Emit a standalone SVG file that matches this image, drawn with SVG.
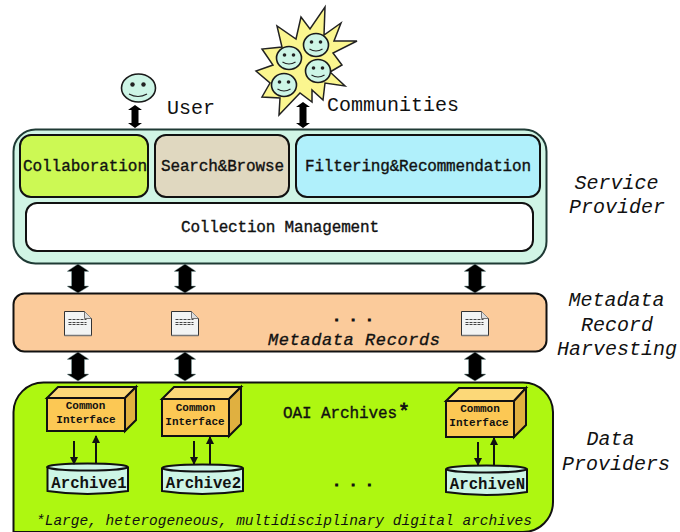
<svg xmlns="http://www.w3.org/2000/svg" width="680" height="532" viewBox="0 0 680 532">
<style>
text{font-family:"Liberation Mono","Courier New",monospace;fill:#111}
.lbl{font-size:20px;text-anchor:middle}
.it{font-style:italic}
.box{stroke:#111;stroke-width:2}
.ci{font-size:11px;font-weight:bold;text-anchor:middle}
.ar{font-size:15.7px;font-weight:bold;text-anchor:middle}
.thin{stroke:#111;stroke-width:2;fill:none}
.face{fill:#cdf5e6;stroke:#1a1a1a;stroke-width:1.6}
.eye{fill:#222}
.smile{fill:none;stroke:#222;stroke-width:1.2}
.tm{font-size:16px;stroke:#111;stroke-width:.35}
.dots{font-size:13.700px;font-weight:bold;text-anchor:middle;stroke:#111;stroke-width:1}
</style>
<defs>
<path id="big" d="M0 0L10.500 7V7.500H6.500V22H10.500V22.500L0 29L-10.500 22.500V22H-6.500V7.500H-10.500V7Z" fill="#000" stroke="#8aa" stroke-width=".5"/>
<marker id="tip" viewBox="0 0 8 8" refX="7" refY="4" markerWidth="8" markerHeight="8" markerUnits="userSpaceOnUse" orient="auto"><path d="M0 0L8 4L0 8Z" fill="#111"/></marker>
<g id="doc"><path d="M0 0H20L27 7V24H0Z" fill="#f2f4f4" stroke="#333" stroke-width="1"/><path d="M20 0V7H27" fill="#ddd" stroke="#555" stroke-width=".8"/><path d="M4 8H22M4 11H22M4 13H22" stroke="#444" stroke-width="1.100" stroke-dasharray="3 1"/><path d="M0 24H27" stroke="#777" stroke-width="1.500"/></g>
<g id="f"><ellipse class="face" rx="12.500" ry="11.500"/><circle class="eye" cx="-4.500" cy="-3" r="1.800"/><circle class="eye" cx="4.500" cy="-3" r="1.800"/><path class="smile" d="M-6.500 4Q0 8 6.500 4"/></g>
</defs>

<g id="connectors">
<path d="M135 105L142 110H138.500V123H142L135 128L128 123H131.500V110H128Z" fill="#000"/>
<path d="M303 102L310 107H306.500V123H310L303 128L296 123H299.500V107H296Z" fill="#000"/>
<use href="#big" x="78" y="264"/><use href="#big" x="185" y="264"/><use href="#big" x="475" y="264"/>
<use href="#big" x="78" y="352"/><use href="#big" x="185" y="352"/><use href="#big" x="475" y="352"/>
</g>

<g id="user">
<ellipse class="face" cx="138.500" cy="88" rx="17" ry="14"/><circle class="eye" cx="132.500" cy="84.500" r="2.200"/><circle class="eye" cx="143.500" cy="84.500" r="2.200"/><path class="smile" d="M129 94Q138 99 147 94"/>
<text x="191" y="114" class="lbl">User</text>
</g>

<g id="communities">
<path d="M325 7L324 35L341 23L334 41L357 41L333 53L342 65L330 72L345 86L325 83L323 100L312 90L312 102L300 93L279 115L280 98L262 97L270 83L256 71L273 65L262 49L282 47L277 26L296 39L301 17L310 29Z" fill="#fbf68f" stroke="#222" stroke-width="1.500"/>
<use href="#f" x="289" y="58"/><use href="#f" x="316" y="45"/><use href="#f" x="318" y="71"/><use href="#f" x="284" y="85"/>
<text x="393" y="111" class="lbl">Communities</text>
</g>

<g id="service-provider">
<rect x="13.500" y="129.500" width="533" height="134" rx="22" fill="#d0f5e5" stroke="#1f3a35" stroke-width="2"/>
<g id="collaboration"><rect class="box" x="20" y="135" width="128" height="62" rx="11" fill="#ccf954"/><text x="23" y="171" class="tm" textLength="124">Collaboration</text></g>
<g id="search-browse"><rect class="box" x="155" y="135" width="134" height="62" rx="11" fill="#e0d8c0"/><text x="161" y="171" class="tm" textLength="123">Search&amp;Browse</text></g>
<g id="filtering"><rect class="box" x="296" y="135" width="244" height="62" rx="11" fill="#b0f0fb"/><text x="305" y="171" class="tm" textLength="226">Filtering&amp;Recommendation</text></g>
<g id="collection"><rect class="box" x="26" y="203" width="507" height="48" rx="11" fill="#fff"/><text x="181" y="232" class="tm" textLength="198">Collection Management</text></g>
</g>
<text x="616.500" y="189" class="lbl it">Service</text>
<text x="617" y="213" class="lbl it">Provider</text>

<g id="metadata">
<rect x="13.500" y="293.500" width="533" height="58" rx="11" fill="#fbcb9b" stroke="#111" stroke-width="2"/>
<use href="#doc" x="64.500" y="311.500"/><use href="#doc" x="171.500" y="311.500"/><use href="#doc" x="461.500" y="311.500"/>
<text x="353" y="321" class="dots">. . .</text>
<text x="268" y="345" class="it tm" style="font-size:17px" textLength="172">Metadata Records</text>
</g>
<text x="616.500" y="306" class="lbl it">Metadata</text>
<text x="617" y="331" class="lbl it">Record</text>
<text x="617" y="355" class="lbl it">Harvesting</text>

<g id="data-providers">
<path d="M13.500 532V412A30 30 0 0 1 43.500 382.500H523A30 30 0 0 1 553 412V502A30 30 0 0 1 523 532Z" fill="#aef711" stroke="#111" stroke-width="2"/>
<text x="283" y="418" class="tm" textLength="114">OAI Archives</text><text x="398" y="418" class="tm" style="font-size:20px;stroke-width:.8">*</text>
<text x="353" y="486" class="dots">. . .</text>
<text x="36" y="525" class="it" font-size="14.500" textLength="496">*Large, heterogeneous, multidisciplinary digital archives</text>
</g>
<text x="610.500" y="445" class="lbl it">Data</text>
<text x="616" y="470" class="lbl it">Providers</text>

<g id="archive-1">
<path class="box" d="M47 398L58 387H136L125 398Z" fill="#fcd878"/><path class="box" d="M125 398L136 387V420L125 431Z" fill="#e0b040"/><rect class="box" x="47" y="398" width="78" height="33" fill="#fcc854"/>
<text x="85.500" y="409" class="ci">Common</text><text x="86" y="423" class="ci">Interface</text>
<path class="box" d="M47.500 467V491Q87.500 497 128 491V467" fill="#cdf5e6"/><ellipse class="box" cx="87.500" cy="467" rx="40.500" ry="3.500" fill="#cdf5e6"/>
<text x="89" y="488" class="ar">Archive1</text>
<path class="thin" d="M74 441V464" marker-end="url(#tip)"/><path class="thin" d="M96 464V436" marker-end="url(#tip)"/>
</g>

<g id="archive-2">
<path class="box" d="M162 399L174 387H241L229 399Z" fill="#fcd878"/><path class="box" d="M229 399L241 387V424L229 436Z" fill="#e0b040"/><rect class="box" x="162" y="399" width="67" height="37" fill="#fcc854"/>
<text x="195.500" y="411" class="ci">Common</text><text x="195" y="425" class="ci">Interface</text>
<path class="box" d="M162 468V491Q202 497 243 491V468" fill="#cdf5e6"/><ellipse class="box" cx="202.500" cy="468" rx="40.500" ry="3.500" fill="#cdf5e6"/>
<text x="203.500" y="488" class="ar">Archive2</text>
<path class="thin" d="M194 441V464" marker-end="url(#tip)"/><path class="thin" d="M210 464V437" marker-end="url(#tip)"/>
</g>

<g id="archive-n">
<path class="box" d="M446 401L459 388H526L514 401Z" fill="#fcd878"/><path class="box" d="M514 401L526 388V425L514 437Z" fill="#e0b040"/><rect class="box" x="446" y="401" width="68" height="36" fill="#fcc854"/>
<text x="480" y="412" class="ci">Common</text><text x="479" y="426" class="ci">Interface</text>
<path class="box" d="M446 469V492Q486 498 527 492V469" fill="#cdf5e6"/><ellipse class="box" cx="486.500" cy="469" rx="40.500" ry="3.500" fill="#cdf5e6"/>
<text x="487.500" y="489" class="ar">ArchiveN</text>
<path class="thin" d="M478 442V465" marker-end="url(#tip)"/><path class="thin" d="M494 465V438" marker-end="url(#tip)"/>
</g>
</svg>
